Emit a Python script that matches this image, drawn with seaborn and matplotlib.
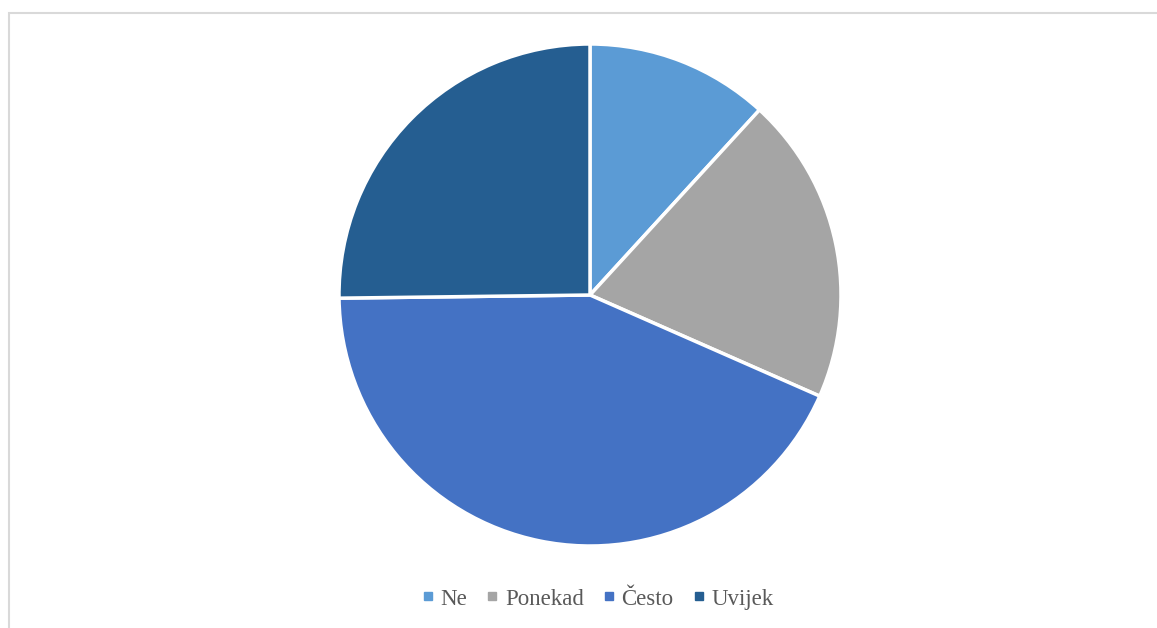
# pie chart: Ne / Ponekad / Često / Uvijek

import matplotlib
matplotlib.use("Agg")
import matplotlib.pyplot as plt
import seaborn as sns
from matplotlib.patches import Rectangle
from matplotlib.lines import Line2D

sns.set_theme(style="white")
plt.rcParams['font.family'] = ['Liberation Serif', 'DejaVu Serif']

# data (percent)
categories = ["Ne", "Ponekad", "Često", "Uvijek"]
values = [11.8, 19.8, 43.2, 25.2]
colors = ["#5B9BD5", "#A5A5A5", "#4472C4", "#255E91"]

W, H = 1157, 628
fig = plt.figure(figsize=(W / 100, H / 100), dpi=100)
fig.patch.set_facecolor("white")

# light gray chart-area border (runs off right and bottom)
fig.patches.append(Rectangle((8.5 / W, -0.1), 1.2, (H - 12.5) / H + 0.1,
                             transform=fig.transFigure, fill=False,
                             edgecolor="#D9D9D9", linewidth=1.5))

# pie axes centred at (590, 295) px, radius ~251 px
cx, cy, r = 590, 295, 251
ax = fig.add_axes([(cx - r) / W, (H - cy - r) / H, 2 * r / W, 2 * r / H])
ax.pie(values, colors=colors, startangle=90, counterclock=False,
       wedgeprops=dict(edgecolor="white", linewidth=2.5))
ax.set_xlim(-1.0, 1.0)
ax.set_ylim(-1.0, 1.0)
ax.set_aspect("equal")
ax.axis("off")

handles = [Line2D([0], [0], marker="s", linestyle="", markersize=6,
                  markerfacecolor=c, markeredgecolor=c) for c in colors]
fig.legend(handles, categories, loc="center", bbox_to_anchor=(595 / W, 1 - 599 / H),
           ncol=4, frameon=False, fontsize=16.5, labelcolor="#595959",
           handletextpad=0.05, columnspacing=0.6, handlelength=1.0)

fig.savefig("out.png", dpi=100)
